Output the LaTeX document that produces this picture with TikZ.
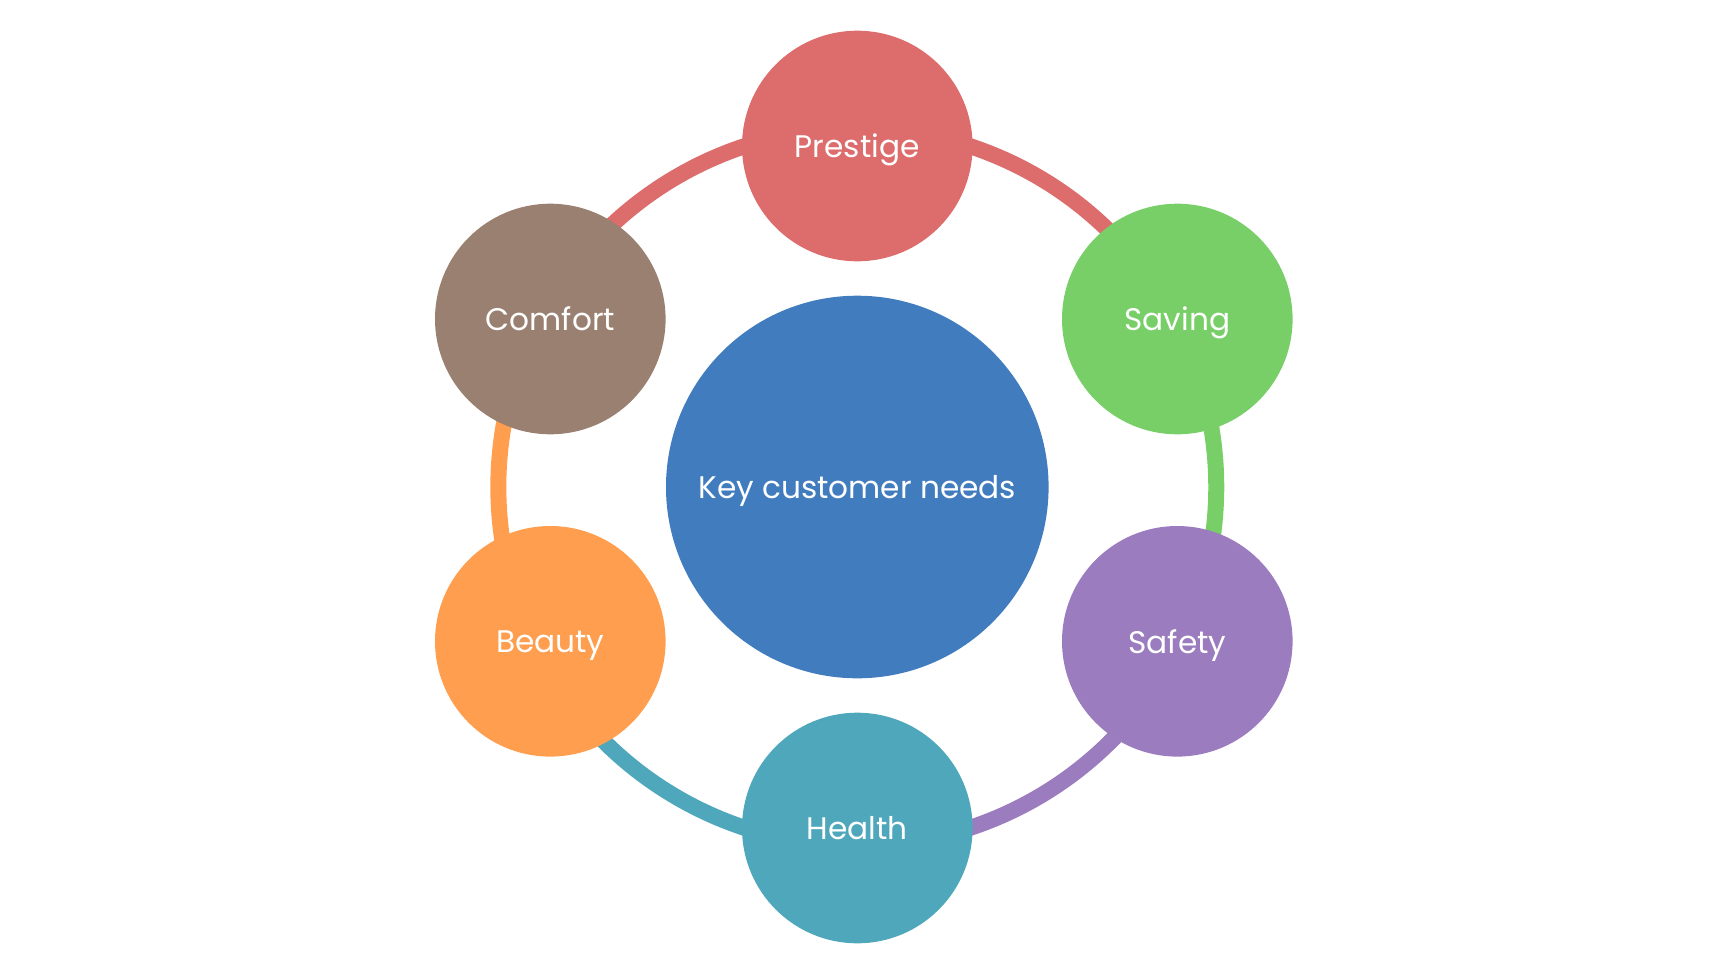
\documentclass[tikz,border=0pt]{standalone}
\usepackage{fontspec}
\setmainfont{Poppins}
\usepackage{xcolor}
\usetikzlibrary{backgrounds}

\definecolor{needred}{HTML}{DD6C6C}
\definecolor{needgreen}{HTML}{78CF68}
\definecolor{needpurple}{HTML}{9B7CBE}
\definecolor{needteal}{HTML}{4FA7BC}
\definecolor{needorange}{HTML}{FE9E4E}
\definecolor{needbrown}{HTML}{9A8071}
\definecolor{coreblue}{HTML}{417CBE}

\begin{document}
\begin{tikzpicture}[
  x=0.5pt, y=0.5pt,
  % ── Style definitions ──
  need/.style={
    circle, minimum size=115.3pt, inner sep=0pt,
    text depth=0pt,
    text=white, font=\fontsize{15.6}{19}\selectfont
  },
  hub/.style={need, minimum size=191.3pt},
  ringarc/.style={line width=8pt}
]
\useasboundingbox (-857.3,-489) rectangle (870.7,487);

% ─────────── Centre circle ───────────────────────────────────
\node[hub, fill=coreblue] (core) at (0,0) {Key customer needs};

% ─────────── Needs round the ring ────────────────────────────
\node[need, fill=needred]    (prestige) at (0,341)       {Prestige};
\node[need, fill=needgreen]  (saving)   at (320,168)     {Saving};
\node[need, fill=needpurple] (safety)   at (320,-154.3)  {Safety};
\node[need, fill=needteal]   (health)   at (0,-341)      {Health};
\node[need, fill=needorange] (beauty)   at (-307,-154.3) {Beauty};
\node[need, fill=needbrown]  (comfort)  at (-307,168)    {Comfort};

% ─────────── Ring arcs (behind the circles) ──────────────────
\begin{scope}[on background layer]
  \draw[ringarc, needred]    ([shift={(151.3:359)}]core.center) arc[start angle=151.3, end angle=90,     radius=359];
  \draw[ringarc, needred]    ([shift={(90:359)}]core.center)    arc[start angle=90,    end angle=27.7,   radius=359];
  \draw[ringarc, needgreen]  ([shift={(27.7:359)}]core.center)  arc[start angle=27.7,  end angle=-25.7,  radius=359];
  \draw[ringarc, needpurple] ([shift={(-25.7:359)}]core.center) arc[start angle=-25.7, end angle=-90,    radius=359];
  \draw[ringarc, needteal]   ([shift={(-90:359)}]core.center)   arc[start angle=-90,   end angle=-153.3, radius=359];
  \draw[ringarc, needorange] ([shift={(-153.3:359)}]core.center) arc[start angle=-153.3, end angle=-208.7, radius=359];
\end{scope}
\end{tikzpicture}
\end{document}
